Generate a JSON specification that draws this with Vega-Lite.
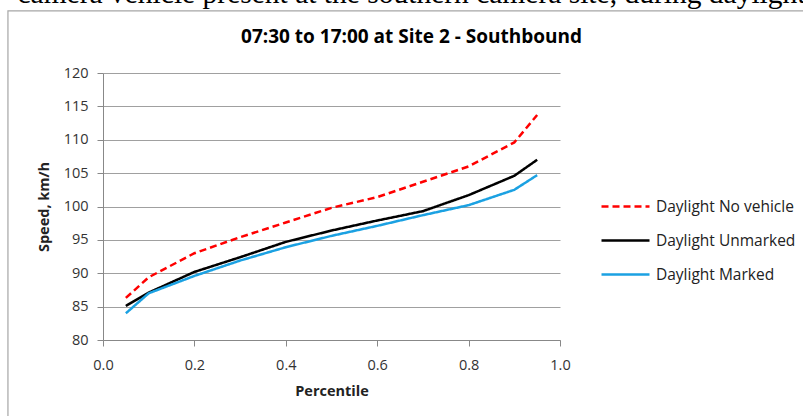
{
  "$schema": "https://vega.github.io/schema/vega-lite/v6.json",
  "width": 457,
  "height": 267,
  "autosize": {"type": "none"},
  "padding": {"left": 103, "top": 73, "right": 243, "bottom": 76},
  "background": "white",
  "title": {
    "text": "camera vehicle present at the southern camera site, during daylight",
    "subtitle": "07:30 to 17:00 at Site 2 - Southbound",
    "font": "Liberation Serif",
    "fontSize": 29.5,
    "fontWeight": "normal",
    "color": "black",
    "subtitleFont": "Open Sans",
    "subtitleFontSize": 19,
    "subtitleFontWeight": "bold",
    "subtitleColor": "black",
    "subtitlePadding": 19,
    "anchor": "middle",
    "frame": "group",
    "offset": -38,
    "dx": 80
  },
  "layer": [
    {
      "data": {"values": [{"item": "frame"}]},
      "mark": {"type": "rect", "fill": null, "stroke": "#a6a6a6", "strokeWidth": 1.2, "clip": false},
      "encoding": {
        "x": {
          "datum": -0.208,
          "type": "quantitative",
          "scale": {"domain": [0, 1], "nice": false, "zero": false},
          "axis": {
            "title": "Percentile",
            "values": [0, 0.2, 0.4, 0.6, 0.8, 1.0],
            "format": ".1f",
            "grid": false,
            "labelFlush": false,
            "labelPadding": 12,
            "titlePadding": 13
          }
        },
        "x2": {"datum": 1.8},
        "y": {
          "datum": 129.3,
          "type": "quantitative",
          "scale": {"domain": [80, 120], "nice": false, "zero": false},
          "axis": {
            "title": "Speed, km/h",
            "values": [80, 85, 90, 95, 100, 105, 110, 115, 120],
            "grid": true,
            "labelPadding": 9,
            "titlePadding": 12
          }
        },
        "y2": {"datum": 60}
      }
    },
    {
      "data": {
        "values": [
          {"p": 0.05, "series": "Daylight No vehicle", "speed": 86.3},
          {"p": 0.1, "series": "Daylight No vehicle", "speed": 89.4},
          {"p": 0.2, "series": "Daylight No vehicle", "speed": 93.0},
          {"p": 0.3, "series": "Daylight No vehicle", "speed": 95.4},
          {"p": 0.4, "series": "Daylight No vehicle", "speed": 97.6},
          {"p": 0.5, "series": "Daylight No vehicle", "speed": 99.8},
          {"p": 0.6, "series": "Daylight No vehicle", "speed": 101.4},
          {"p": 0.7, "series": "Daylight No vehicle", "speed": 103.7},
          {"p": 0.8, "series": "Daylight No vehicle", "speed": 106.0},
          {"p": 0.9, "series": "Daylight No vehicle", "speed": 109.6},
          {"p": 0.95, "series": "Daylight No vehicle", "speed": 113.7},
          {"p": 0.05, "series": "Daylight Unmarked", "speed": 85.1},
          {"p": 0.1, "series": "Daylight Unmarked", "speed": 87.1},
          {"p": 0.2, "series": "Daylight Unmarked", "speed": 90.2},
          {"p": 0.3, "series": "Daylight Unmarked", "speed": 92.4},
          {"p": 0.4, "series": "Daylight Unmarked", "speed": 94.7},
          {"p": 0.5, "series": "Daylight Unmarked", "speed": 96.4},
          {"p": 0.6, "series": "Daylight Unmarked", "speed": 97.9},
          {"p": 0.7, "series": "Daylight Unmarked", "speed": 99.3},
          {"p": 0.8, "series": "Daylight Unmarked", "speed": 101.7},
          {"p": 0.9, "series": "Daylight Unmarked", "speed": 104.6},
          {"p": 0.95, "series": "Daylight Unmarked", "speed": 107.0},
          {"p": 0.05, "series": "Daylight Marked", "speed": 84.0},
          {"p": 0.1, "series": "Daylight Marked", "speed": 87.0},
          {"p": 0.2, "series": "Daylight Marked", "speed": 89.6},
          {"p": 0.3, "series": "Daylight Marked", "speed": 91.9},
          {"p": 0.4, "series": "Daylight Marked", "speed": 93.9},
          {"p": 0.5, "series": "Daylight Marked", "speed": 95.6},
          {"p": 0.6, "series": "Daylight Marked", "speed": 97.1},
          {"p": 0.7, "series": "Daylight Marked", "speed": 98.7},
          {"p": 0.8, "series": "Daylight Marked", "speed": 100.2},
          {"p": 0.9, "series": "Daylight Marked", "speed": 102.5},
          {"p": 0.95, "series": "Daylight Marked", "speed": 104.7}
        ]
      },
      "mark": {"type": "line", "strokeWidth": 2.5, "strokeCap": "butt"},
      "encoding": {
        "x": {
          "field": "p",
          "type": "quantitative",
          "scale": {"domain": [0, 1], "nice": false, "zero": false},
          "axis": {
            "title": "Percentile",
            "values": [0, 0.2, 0.4, 0.6, 0.8, 1.0],
            "format": ".1f",
            "grid": false,
            "labelFlush": false,
            "labelPadding": 12,
            "titlePadding": 13
          }
        },
        "y": {
          "field": "speed",
          "type": "quantitative",
          "scale": {"domain": [80, 120], "nice": false, "zero": false},
          "axis": {
            "title": "Speed, km/h",
            "values": [80, 85, 90, 95, 100, 105, 110, 115, 120],
            "grid": true,
            "labelPadding": 9,
            "titlePadding": 12
          }
        },
        "color": {
          "field": "series",
          "type": "nominal",
          "sort": ["Daylight No vehicle", "Daylight Unmarked", "Daylight Marked"],
          "scale": {
            "domain": ["Daylight No vehicle", "Daylight Unmarked", "Daylight Marked"],
            "range": ["#ff0000", "#000000", "#1ba1e2"]
          },
          "legend": {"title": null, "orient": "none", "legendX": 497, "legendY": 108}
        },
        "strokeDash": {
          "field": "series",
          "type": "nominal",
          "sort": ["Daylight No vehicle", "Daylight Unmarked", "Daylight Marked"],
          "scale": {
            "domain": ["Daylight No vehicle", "Daylight Unmarked", "Daylight Marked"],
            "range": [[7, 4], [1, 0], [1, 0]]
          },
          "legend": {"title": null, "orient": "none", "legendX": 497, "legendY": 108}
        }
      }
    }
  ],
  "config": {
    "view": {"stroke": null},
    "font": "Open Sans",
    "axis": {
      "labelFont": "Open Sans",
      "labelFontSize": 14.5,
      "labelColor": "#333333",
      "labelOverlap": false,
      "titleFont": "Open Sans",
      "titleFontSize": 14.5,
      "titleFontWeight": "bold",
      "titleColor": "#222222",
      "domainColor": "#888888",
      "tickColor": "#888888",
      "tickSize": 6,
      "gridColor": "#a0a0a0",
      "gridWidth": 1
    },
    "legend": {
      "symbolType": "stroke",
      "symbolSize": 2304,
      "symbolStrokeWidth": 2.5,
      "labelFont": "Open Sans",
      "labelFontSize": 15.5,
      "labelColor": "#222222",
      "labelOffset": 5,
      "rowPadding": -15,
      "padding": 0,
      "labelLimit": 300
    }
  }
}
